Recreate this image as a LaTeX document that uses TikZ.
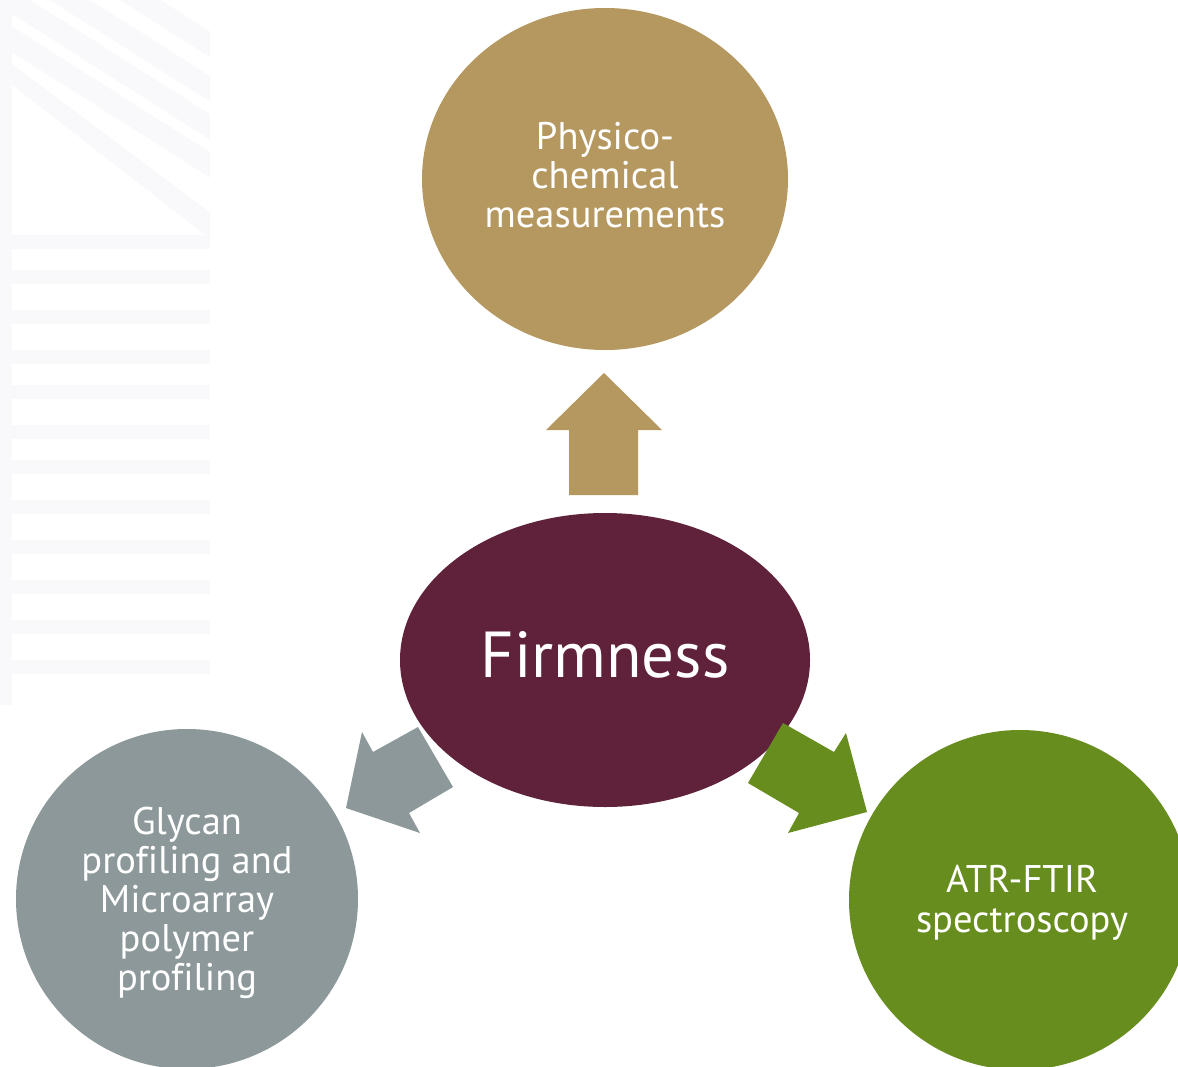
\documentclass[tikz,border=0pt]{standalone}
\usepackage{fontspec}
\setmainfont{PT Sans}[Ligatures=NoCommon]
\usetikzlibrary{shapes.geometric}
\definecolor{tan}{HTML}{B5985F}
\definecolor{wine}{HTML}{5F223A}
\definecolor{slate}{HTML}{8C9899}
\definecolor{leaf}{HTML}{678D1E}
\definecolor{faint}{HTML}{F9F9FB}
\begin{document}
\begin{tikzpicture}[x=1pt,y=-1pt,
  blob/.style={ellipse,inner sep=0pt,draw=none},
  lbl/.style={text=white,align=center,inner sep=0pt,font=\fontsize{38.5}{39}\selectfont}]
\useasboundingbox (0,0) rectangle (1178,1066);
\fill[white] (0,0) rectangle (1178,1066);
% faint background pattern
\begin{scope}
\clip (0,0) rectangle (210,705);
\foreach \a in {-40,20,80,150}{
  \fill[faint] (\a-30,0) -- (\a+10,0) -- (\a+420,260) -- (\a+380,260) -- cycle;}
\fill[faint] (-20,60) -- (0,55) -- (260,250) -- (240,262) -- cycle;
\foreach \yy in {235,270,310,350,385,425,460,500,540,580,620,660}{
  \fill[faint] (0,\yy) rectangle (210,\yy+14);}
\fill[faint] (0,0) rectangle (12,705);
\end{scope}
% circles
\node[blob,fill=tan,minimum width=366pt,minimum height=342pt] (phys) at (605,179) {};
\node[blob,fill=wine,minimum width=410pt,minimum height=294pt] (firm) at (605,660) {};
\node[blob,fill=slate,minimum width=342pt,minimum height=340pt] (gly) at (187,899) {};
\node[blob,fill=leaf,minimum width=342pt,minimum height=340pt] (atr) at (1020,900) {};
% labels
\node[lbl] (physt) at (605,175) {Physico-\\chemical\\measurements};
\node[lbl,font=\fontsize{65}{70}\selectfont] (firmt) at (605,655) {Firmness};
\node[lbl] (glyt) at (187,903) {Glycan\\profiling and\\Microarray\\polymer\\profiling};
\node[lbl,font=\fontsize{38.5}{40}\selectfont] (atrt) at (1022,903) {ATR-FTIR\\spectroscopy};
% block arrows
\fill[tan] (604,373) -- (662,430) -- (638,430) -- (638,495) -- (569,495) -- (569,430) -- (546,430) -- cycle;
\fill[slate] (418,727) -- (453,787) -- (409,813) -- (420,833) -- (346,808) -- (362,732) -- (373,752) -- cycle;
\fill[leaf] (783,723) -- (834,752) -- (846,733) -- (867,812) -- (788,833) -- (799,813) -- (748,783) -- cycle;
\end{tikzpicture}
\end{document}
